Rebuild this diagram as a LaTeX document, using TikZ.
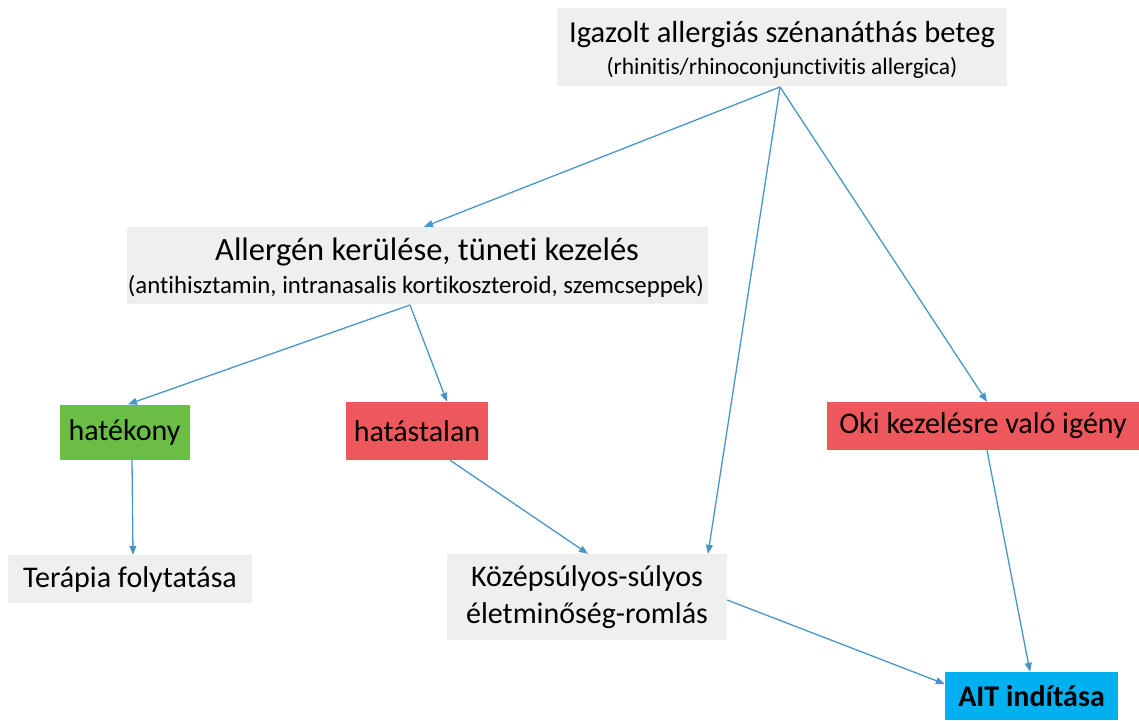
\documentclass[tikz,border=0pt]{standalone}
\usepackage{fontspec}
\setmainfont[Ligatures={NoCommon}]{Carlito}
\usetikzlibrary{arrows.meta}
\definecolor{boxgrey}{RGB}{239,239,239}
\definecolor{okgreen}{RGB}{106,190,69}
\definecolor{badred}{RGB}{236,88,92}
\definecolor{aitblue}{RGB}{0,176,240}
\definecolor{arrowblue}{RGB}{72,150,200}
\tikzset{
  box/.style={rectangle, inner sep=0pt, align=center, text=black},
  greybox/.style={box, fill=boxgrey},
  conn/.style={draw=arrowblue, line width=1.3pt, -{Triangle[length=9pt,width=7pt]}},
  big/.style={font=\fontsize{30.5}{36}\selectfont},
  mid/.style={font=\fontsize{30}{37}\selectfont},
  small/.style={font=\fontsize{23.5}{28}\selectfont},
}
\begin{document}
\begin{tikzpicture}[x=1pt,y=-1pt]
\useasboundingbox (0,0) rectangle (1139,720);
% boxes
\node[greybox, minimum width=450, minimum height=78] (top) at (782,47) {};
\node[big] (toptitle) at (782,35) {Igazolt allergiás szénanáthás beteg};
\node[small] (topsub) at (782,68) {(rhinitis/rhinoconjunctivitis allergica)};

\node[greybox, minimum width=581, minimum height=77] (allerg) at (417.5,265.5) {};
\node[font=\fontsize{32.5}{38}\selectfont] (allergtitle) at (427,252) {Allergén kerülése, tüneti kezelés};
\node[font=\fontsize{24.8}{29}\selectfont] (allergsub) at (416,286) {(antihisztamin, intranasalis kortikoszteroid, szemcseppek)};

\node[box, fill=okgreen, mid, minimum width=130, minimum height=55] (hatekony) at (124.5,432) {hatékony};
\node[box, fill=badred, mid, minimum width=142, minimum height=58] (hatastalan) at (417,431) {hatástalan};
\node[box, fill=badred, mid, minimum width=312, minimum height=48] (oki) at (983,426) {Oki kezelésre való igény};

\node[greybox, mid, minimum width=244, minimum height=48] (terapia) at (130,579) {Terápia folytatása};
\node[greybox, mid, minimum width=280, minimum height=86, text width=270] (kozep) at (587,597) {Középsúlyos-súlyos\\életminőség-romlás};
\node[box, fill=aitblue, font=\fontsize{30}{36}\selectfont\bfseries, minimum width=173, minimum height=48] (ait) at (1031.5,696) {AIT indítása};

% connectors
\coordinate (tophub) at (780,87);
\coordinate (allerghub) at (410,305);
\draw[conn] (tophub) -- (allerg.north -| 424,0);
\draw[conn] (tophub) -- (kozep.north -| 708,0);
\draw[conn] (tophub) -- (oki.north -| 987,0);
\draw[conn] (allerghub) -- (hatekony.north -| 128,0);
\draw[conn] (allerghub) -- (hatastalan.north -| 447,0);
\draw[conn] (hatekony.south -| 132,0) -- (terapia.north -| 133,0);
\draw[conn] (hatastalan.south -| 450,0) -- (kozep.north -| 588,0);
\draw[conn] (oki.south -| 987,0) -- (ait.north -| 1030,0);
\draw[conn] (kozep.east |- 0,600) -- (ait.west |- 0,684);
\end{tikzpicture}
\end{document}
